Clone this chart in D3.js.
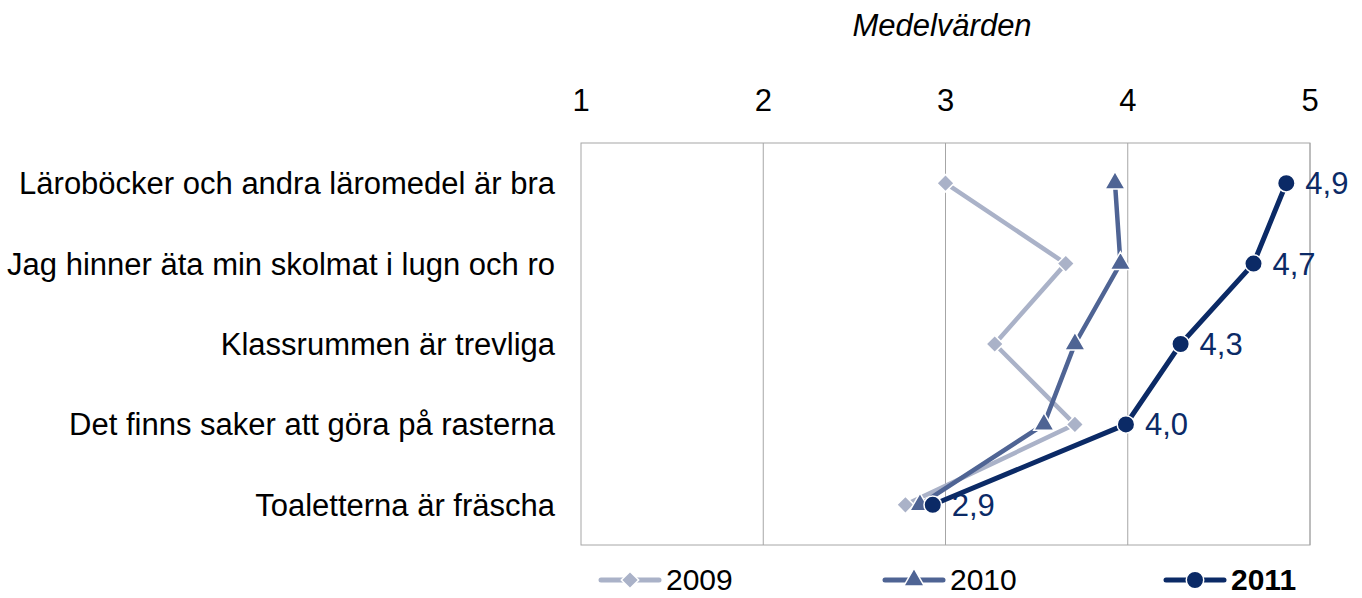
<!DOCTYPE html>
<html>
<head>
<meta charset="utf-8">
<script src="https://cdn.jsdelivr.net/npm/d3@7"></script>
<style>
  body { margin: 0; background: #fff; }
  svg { display: block; font-family: 'Liberation Sans', Arial, sans-serif; }
</style>
</head>
<body>
<svg id="chart" width="1362" height="598"></svg>
<script>
const categories = [
  'Läroböcker och andra läromedel är bra',
  'Jag hinner äta min skolmat i lugn och ro',
  'Klassrummen är trevliga',
  'Det finns saker att göra på rasterna',
  'Toaletterna är fräscha'
];
const years = ['2009', '2010', '2011'];
const values2009 = [3.0, 3.66, 3.27, 3.71, 2.78];
const values2010 = [3.93, 3.96, 3.71, 3.54, 2.86];
const values2011 = [4.87, 4.69, 4.29, 3.99, 2.93];
const labels2011 = ['4,9', '4,7', '4,3', '4,0', '2,9'];
const xTicks = [1, 2, 3, 4, 5];

const series = [
  { year: years[0], values: values2009, color: '#aab2c8', symbol: d3.symbolSquare, size: 150, rotate: 45 },
  { year: years[1], values: values2010, color: '#4f6494', symbol: d3.symbolTriangle, size: 180, rotate: 0 },
  { year: years[2], values: values2011, color: '#0b2a66', symbol: d3.symbolCircle, size: 240, rotate: 0 }
];

const fontSize = '31px';
const svg = d3.select('#chart');
const margin = { top: 143, right: 52, bottom: 53, left: 581 };
const width = 1362, height = 598;

// scales work in absolute svg coordinates
const x = d3.scaleLinear().domain([1, 5]).range([margin.left, width - margin.right]);
const y = d3.scaleBand().domain(categories).range([margin.top, height - margin.bottom]);
const cy = (i) => y(categories[i]) + y.bandwidth() / 2;

// gridlines
svg.selectAll('.grid')
  .data(xTicks.slice(1))
  .enter()
  .append('line')
  .attr('x1', (d) => x(d)).attr('x2', (d) => x(d))
  .attr('y1', margin.top).attr('y2', height - margin.bottom)
  .attr('stroke', '#a6a6a6').attr('stroke-width', 1);

svg.append('rect')
  .attr('x', margin.left).attr('y', margin.top)
  .attr('width', width - margin.left - margin.right)
  .attr('height', height - margin.top - margin.bottom)
  .attr('fill', 'none').attr('stroke', '#a6a6a6').attr('stroke-width', 1);

// top tick labels
svg.selectAll('.xtick')
  .data(xTicks)
  .enter()
  .append('text')
  .attr('x', (d) => x(d))
  .attr('y', margin.top - 32)
  .attr('text-anchor', 'middle')
  .attr('font-size', fontSize)
  .text((d) => d);

// category labels
svg.selectAll('.cat')
  .data(categories)
  .enter()
  .append('text')
  .attr('x', margin.left - 26)
  .attr('y', (d, i) => cy(i) + 11)
  .attr('text-anchor', 'end')
  .attr('font-size', fontSize)
  .text((d) => d);

svg.append('text')
  .attr('x', 942).attr('y', 36)
  .attr('text-anchor', 'middle')
  .attr('font-size', fontSize)
  .attr('font-style', 'italic')
  .text('Medelvärden');

const line = d3.line()
  .x((d) => x(d))
  .y((d, i) => cy(i));

series.forEach((s) => {
  svg.append('path')
    .datum(s.values)
    .attr('fill', 'none')
    .attr('stroke', s.color)
    .attr('stroke-width', s.year === '2011' ? 5 : 4.5)
    .attr('d', line);
  svg.selectAll(null)
    .data(s.values)
    .enter()
    .append('path')
    .attr('d', d3.symbol().type(s.symbol).size(s.size))
    .attr('transform', (d, i) => `translate(${x(d)},${cy(i)}) rotate(${s.rotate})`)
    .attr('fill', s.color)
    .attr('stroke', '#fff')
    .attr('stroke-width', 1.5);
});

// data labels 2011
svg.selectAll('.dlabel')
  .data(values2011)
  .enter()
  .append('text')
  .attr('x', (d) => x(d) + 19)
  .attr('y', (d, i) => cy(i) + 11)
  .attr('font-size', fontSize)
  .attr('fill', '#0b2a66')
  .text((d, i) => labels2011[i]);

// legend
const legendX = [601, 885, 1166];
series.forEach((s, i) => {
  const lx = legendX[i], ly = 580;
  svg.append('line')
    .attr('x1', lx).attr('x2', lx + 58).attr('y1', ly).attr('y2', ly)
    .attr('stroke', s.color).attr('stroke-width', 5).attr('stroke-linecap', 'round');
  svg.append('path')
    .attr('d', d3.symbol().type(s.symbol).size(s.size))
    .attr('transform', `translate(${lx + 29},${ly}) rotate(${s.rotate})`)
    .attr('fill', s.color)
    .attr('stroke', '#fff')
    .attr('stroke-width', 1.5);
  svg.append('text')
    .attr('x', lx + 65).attr('y', ly + 10)
    .attr('font-size', '30px')
    .attr('font-weight', s.year === '2011' ? 'bold' : 'normal')
    .text(s.year);
});
</script>
</body>
</html>
